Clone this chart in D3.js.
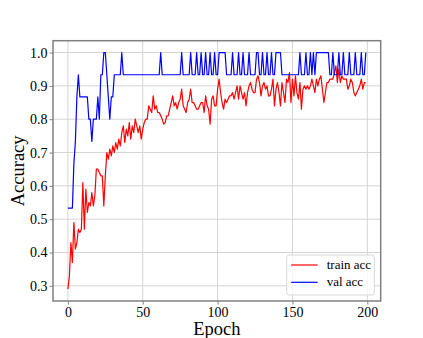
<!DOCTYPE html>
<html>
<head>
<meta charset="utf-8">
<script src="https://cdn.jsdelivr.net/npm/d3@7/dist/d3.min.js"></script>
<style>
  html, body { margin: 0; padding: 0; background: #ffffff; }
  svg { display: block; }
  svg text { font-family: "Liberation Serif", "Times New Roman", serif !important; fill: #000; }
</style>
</head>
<body>
<div id="chart"></div>
<script>
// ---- data ----
const trainAcc = [
  0.29, 0.33, 0.43, 0.37, 0.49, 0.41, 0.43, 0.47, 0.46, 0.47,
  0.61, 0.47, 0.59, 0.52, 0.55, 0.54, 0.58, 0.54, 0.57, 0.65,
  0.65, 0.64, 0.63, 0.63, 0.54, 0.63, 0.70, 0.68, 0.71, 0.69,
  0.72, 0.70, 0.73, 0.71, 0.74, 0.72, 0.76, 0.78, 0.73, 0.77,
  0.75, 0.79, 0.74, 0.78, 0.76, 0.80, 0.78, 0.76, 0.78, 0.74,
  0.77, 0.79, 0.80, 0.80, 0.84, 0.83, 0.82, 0.87, 0.83, 0.84,
  0.82, 0.82, 0.81, 0.80, 0.785, 0.79, 0.81, 0.81, 0.83, 0.85,
  0.87, 0.84, 0.85, 0.83, 0.85, 0.86, 0.89, 0.84, 0.83, 0.82,
  0.85, 0.86, 0.89, 0.85, 0.85, 0.84, 0.83, 0.83, 0.84, 0.85,
  0.85, 0.82, 0.87, 0.84, 0.83, 0.785, 0.86, 0.87, 0.84, 0.84,
  0.89, 0.92, 0.88, 0.85, 0.83, 0.86, 0.85, 0.86, 0.87, 0.87,
  0.88, 0.86, 0.88, 0.90, 0.86, 0.90, 0.88, 0.86, 0.88, 0.84,
  0.88, 0.90, 0.91, 0.89, 0.88, 0.88, 0.92, 0.93, 0.91, 0.87,
  0.90, 0.91, 0.89, 0.90, 0.87, 0.87, 0.89, 0.92, 0.84, 0.89,
  0.91, 0.88, 0.84, 0.91, 0.88, 0.85, 0.92, 0.91, 0.94, 0.85,
  0.92, 0.87, 0.93, 0.88, 0.86, 0.91, 0.83, 0.89, 0.90, 0.89,
  0.90, 0.89, 0.90, 0.92, 0.90, 0.88, 0.92, 0.90, 0.92, 0.93,
  0.89, 0.85, 0.88, 0.91, 0.91, 0.92, 0.92, 0.92, 0.94, 0.96,
  0.91, 0.95, 0.91, 0.93, 0.92, 0.92, 0.92, 0.89, 0.90, 0.92,
  0.91, 0.88, 0.87, 0.88, 0.89, 0.90, 0.92, 0.89, 0.91, 0.91
];
const valAcc = [
  0.5333, 0.5333, 0.5333, 0.5333, 0.6667, 0.7333, 0.8667, 0.9333, 0.8667, 0.8667,
  0.8667, 0.8667, 0.8667, 0.8667, 0.8, 0.8, 0.7333, 0.8, 0.8, 0.8,
  0.8667, 0.8, 0.9333, 0.9333, 1, 1, 0.9333, 0.8667, 0.8, 0.8667,
  0.8667, 0.9333, 0.9333, 0.9333, 0.9333, 0.9333, 1, 0.9333, 0.9333, 0.9333,
  0.9333, 0.9333, 0.9333, 0.9333, 0.9333, 0.9333, 0.9333, 0.9333, 0.9333, 0.9333,
  0.9333, 0.9333, 0.9333, 0.9333, 0.9333, 0.9333, 0.9333, 0.9333, 0.9333, 0.9333,
  0.9333, 0.9333, 1, 0.9333, 0.9333, 0.9333, 0.9333, 0.9333, 0.9333, 0.9333,
  0.9333, 0.9333, 0.9333, 0.9333, 0.9333, 0.9333, 1, 0.9333, 0.9333, 0.9333,
  0.9333, 0.9333, 1, 0.9333, 0.9333, 0.9333, 1, 0.9333, 0.9333, 1,
  0.9333, 0.9333, 1, 0.9333, 0.9333, 1, 0.9333, 0.9333, 1, 0.9333,
  0.9333, 1, 1, 1, 1, 1, 0.9333, 0.9333, 0.9333, 0.9333,
  1, 0.9333, 0.9333, 0.9333, 1, 0.9333, 0.9333, 1, 0.9333, 0.9333,
  0.9333, 1, 0.9333, 0.9333, 0.9333, 0.9333, 1, 1, 0.9333, 0.9333,
  1, 0.9333, 0.9333, 1, 0.9333, 0.9333, 1, 0.9333, 0.9333, 1,
  1, 1, 1, 0.9333, 0.9333, 0.9333, 0.9333, 0.9333, 0.9333, 0.9333,
  0.9333, 0.9333, 0.9333, 0.9333, 0.9333, 1, 0.9333, 0.9333, 0.9333, 1,
  0.9333, 0.9333, 1, 0.9333, 1, 0.9333, 1, 1, 1, 1,
  1, 1, 1, 1, 1, 0.9333, 0.9333, 1, 0.9333, 0.9333,
  0.9333, 1, 0.9333, 0.9333, 1, 0.9333, 0.9333, 0.9333, 1, 0.9333,
  0.9333, 0.9333, 1, 0.9333, 0.9333, 0.9333, 1, 0.9333, 0.9333, 1
];
const epochs = trainAcc.map((d, i) => i);
const xTicks = [0, 50, 100, 150, 200];
const yTicks = [0.3, 0.4, 0.5, 0.6, 0.7, 0.8, 0.9, 1.0];
const seriesNames = ["train acc", "val acc"];
const xLabel = "Epoch";
const yLabel = "Accuracy";

// ---- layout ----
const W = 423, H = 338;
const plot = { left: 53, top: 40.7, right: 380.7, bottom: 301 };
const serif = '"Liberation Serif", "Times New Roman", serif';

const svg = d3.select("#chart").append("svg")
  .attr("width", W).attr("height", H);
svg.append("rect").attr("width", W).attr("height", H).attr("fill", "#fff");

// matplotlib-like 5% margins
const xExt = d3.extent(epochs);
const xPad = (xExt[1] - xExt[0]) * 0.05;
const allY = trainAcc.concat(valAcc);
const yExt = d3.extent(allY);
const yPad = (yExt[1] - yExt[0]) * 0.05;

const x = d3.scaleLinear().domain([xExt[0] - xPad, xExt[1] + xPad]).range([plot.left, plot.right]);
const y = d3.scaleLinear().domain([yExt[0] - yPad, yExt[1] + yPad]).range([plot.bottom, plot.top]);

// grid
const grid = svg.append("g");
grid.selectAll(".gx").data(xTicks).enter().append("line")
  .attr("x1", d => x(d)).attr("x2", d => x(d))
  .attr("y1", plot.top).attr("y2", plot.bottom)
  .attr("stroke", "#d4d4d4").attr("stroke-width", 1);
grid.selectAll(".gy").data(yTicks).enter().append("line")
  .attr("y1", d => y(d)).attr("y2", d => y(d))
  .attr("x1", plot.left).attr("x2", plot.right)
  .attr("stroke", "#d4d4d4").attr("stroke-width", 1);

// lines
const line = d3.line().x((d, i) => x(epochs[i])).y(d => y(d));
svg.append("path").datum(trainAcc).attr("d", line)
  .attr("fill", "none").attr("stroke", "#ff0000").attr("stroke-width", 1.2)
  .attr("stroke-linejoin", "round");
svg.append("path").datum(valAcc).attr("d", line)
  .attr("fill", "none").attr("stroke", "#0000ff").attr("stroke-width", 1.2)
  .attr("stroke-linejoin", "round");

// axes
const xAxis = d3.axisBottom(x).tickValues(xTicks).tickFormat(d3.format("d")).tickSize(3.5).tickPadding(3);
const yAxis = d3.axisLeft(y).tickValues(yTicks).tickFormat(d3.format(".1f")).tickSize(3.5).tickPadding(2);

const gx = svg.append("g").attr("transform", `translate(0,${plot.bottom})`).call(xAxis);
const gy = svg.append("g").attr("transform", `translate(${plot.left},0)`).call(yAxis);
[gx, gy].forEach(g => {
  g.attr("font-family", null).attr("font-size", null);
  g.select(".domain").remove();
  g.selectAll(".tick line").attr("stroke", "#808080").attr("stroke-width", 1);
  g.selectAll(".tick text")
    .style("font-family", serif)
    .style("font-size", "14px").attr("fill", "#000");
});

// spines
svg.append("rect")
  .attr("x", plot.left).attr("y", plot.top)
  .attr("width", plot.right - plot.left).attr("height", plot.bottom - plot.top)
  .attr("fill", "none").attr("stroke", "#808080").attr("stroke-width", 1.5);

// axis labels
svg.append("text").attr("x", (plot.left + plot.right) / 2).attr("y", 335)
  .attr("text-anchor", "middle").style("font-family", serif).style("font-size", "18.5px").text(xLabel);
svg.append("text")
  .attr("transform", `translate(24,${(plot.top + plot.bottom) / 2}) rotate(-90)`)
  .attr("text-anchor", "middle").style("font-family", serif).style("font-size", "18.5px").text(yLabel);

// legend
const lg = svg.append("g");
const lgW = 87.6, lgH = 40;
const lgX = plot.right - 6.4 - lgW, lgY = plot.bottom - 6 - lgH;
lg.append("rect").attr("x", lgX).attr("y", lgY).attr("width", lgW).attr("height", lgH)
  .attr("rx", 2.5).attr("fill", "#fff").attr("fill-opacity", 0.8)
  .attr("stroke", "#d8d8d8").attr("stroke-width", 1);
const colors = ["#ff0000", "#0000ff"];
seriesNames.forEach((name, i) => {
  const cy = lgY + 10 + i * 17.3;
  lg.append("line").attr("x1", lgX + 4.5).attr("x2", lgX + 31).attr("y1", cy).attr("y2", cy)
    .attr("stroke", colors[i]).attr("stroke-width", 1.2);
  lg.append("text").attr("x", lgX + 40).attr("y", cy + 4)
    .style("font-family", serif).style("font-size", "13px").text(name);
});
</script>
</body>
</html>
